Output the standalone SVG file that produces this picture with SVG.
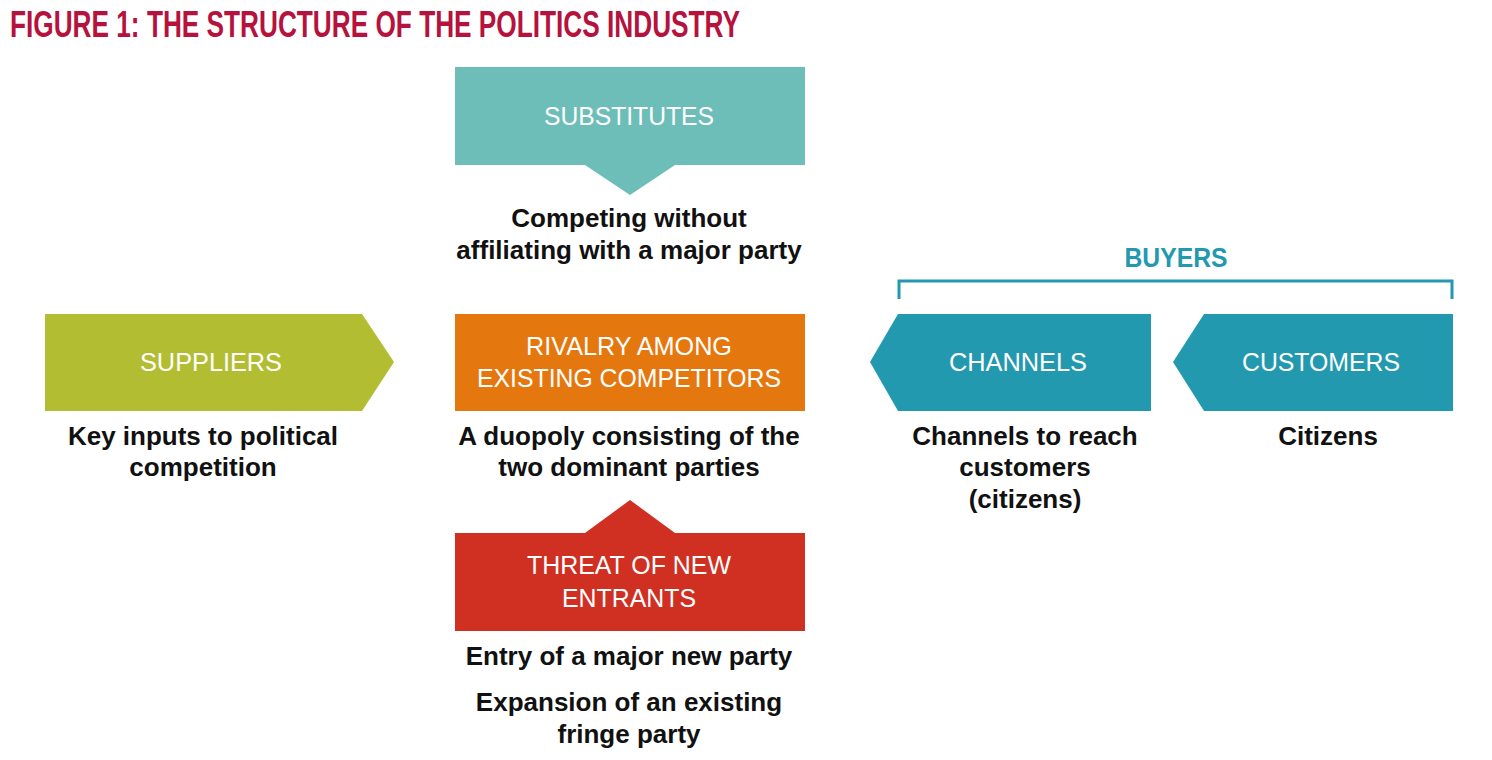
<svg xmlns="http://www.w3.org/2000/svg" width="1492" height="760" viewBox="0 0 1492 760">
<style>
.title{font-family:"Liberation Sans",Arial,sans-serif;font-weight:bold;font-size:36px;fill:#b5123e}
.lbl{font-family:"Liberation Sans",Arial,sans-serif;font-size:25px;fill:#ffffff;text-anchor:middle}
.body{font-family:"Liberation Sans",Arial,sans-serif;font-weight:bold;font-size:26px;fill:#111111;text-anchor:middle}
.buyers{font-family:"Liberation Sans",Arial,sans-serif;font-weight:bold;font-size:27px;fill:#2399b0;text-anchor:middle}
</style>
<rect width="1492" height="760" fill="#ffffff"/>
<text class="title" x="10" y="37" textLength="730" lengthAdjust="spacingAndGlyphs">FIGURE 1: THE STRUCTURE OF THE POLITICS INDUSTRY</text>

<g id="substitutes">
<path d="M455 67 H805 V165 H675 L630 195 L585 165 H455 Z" fill="#6dbdb8"/>
<text class="lbl" x="629" y="125" textLength="170" lengthAdjust="spacingAndGlyphs">SUBSTITUTES</text>
<text class="body" x="629" y="227">Competing without</text>
<text class="body" x="629" y="259">affiliating with a major party</text>
</g>

<g id="suppliers">
<path d="M45 314 H362 L394 362 L362 411 H45 Z" fill="#b3bd32"/>
<text class="lbl" x="211" y="371" textLength="142" lengthAdjust="spacingAndGlyphs">SUPPLIERS</text>
<text class="body" x="203" y="445">Key inputs to political</text>
<text class="body" x="203" y="476">competition</text>
</g>

<g id="rivalry">
<rect x="455" y="314" width="350" height="97" fill="#e5770f"/>
<text class="lbl" x="629" y="355" textLength="206" lengthAdjust="spacingAndGlyphs">RIVALRY AMONG</text>
<text class="lbl" x="629" y="387" textLength="304" lengthAdjust="spacingAndGlyphs">EXISTING COMPETITORS</text>
<text class="body" x="629" y="445">A duopoly consisting of the</text>
<text class="body" x="629" y="476">two dominant parties</text>
</g>

<g id="threat">
<path d="M455 533 H585 L630 500 L675 533 H805 V631 H455 Z" fill="#d03022"/>
<text class="lbl" x="629" y="574" textLength="204" lengthAdjust="spacingAndGlyphs">THREAT OF NEW</text>
<text class="lbl" x="629" y="607" textLength="134" lengthAdjust="spacingAndGlyphs">ENTRANTS</text>
<text class="body" x="629" y="665">Entry of a major new party</text>
<text class="body" x="629" y="711">Expansion of an existing</text>
<text class="body" x="629" y="743">fringe party</text>
</g>

<g id="buyers">
<path d="M899 299 V281 H1452 V299" fill="none" stroke="#2399b0" stroke-width="3"/>
<text class="buyers" x="1176" y="267" textLength="103" lengthAdjust="spacingAndGlyphs">BUYERS</text>
</g>

<g id="channels">
<path d="M898 314 H1151 V411 H898 L870 362 Z" fill="#2399b0"/>
<text class="lbl" x="1018" y="371" textLength="138" lengthAdjust="spacingAndGlyphs">CHANNELS</text>
<text class="body" x="1025" y="445">Channels to reach</text>
<text class="body" x="1025" y="476">customers</text>
<text class="body" x="1025" y="508">(citizens)</text>
</g>

<g id="customers">
<path d="M1204 314 H1453 V411 H1204 L1173 362 Z" fill="#2399b0"/>
<text class="lbl" x="1321" y="371" textLength="158" lengthAdjust="spacingAndGlyphs">CUSTOMERS</text>
<text class="body" x="1328" y="445">Citizens</text>
</g>

<g id="connectors"></g>
</svg>
